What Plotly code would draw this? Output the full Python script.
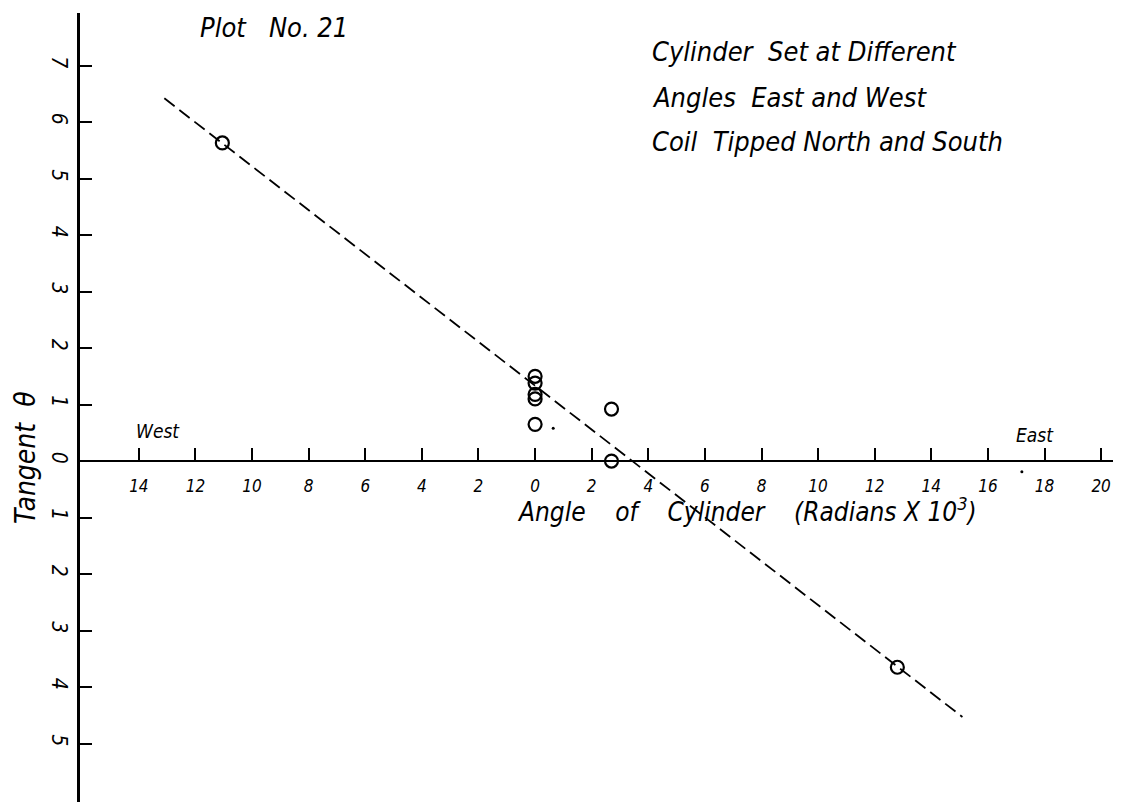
import plotly.graph_objects as go

# measured points (angle of cylinder, radians x 10^3; west negative)
angle = [-11.05, 0.0, 0.0, 0.0, 0.0, 0.0, 2.7, 2.7, 12.8]
tangent = [5.63, 1.5, 1.38, 1.18, 1.1, 0.65, 0.92, 0.0, -3.65]

# hand drawn fitted line
fit_x = [-13.1, 15.1]
fit_y = [6.42, -4.53]

# stray ink specks on the sheet
speck_x = [0.64, 17.2]
speck_y = [0.58, -0.19]

x_ticks = list(range(-14, 21, 2))
x_labels = [str(abs(v)) for v in x_ticks]
y_ticks = list(range(-5, 8))
y_labels = [str(abs(v)) for v in y_ticks]

FONT = "Liberation Sans Narrow, DejaVu Sans Condensed, Liberation Sans, sans-serif"

fig = go.Figure()

fig.add_trace(go.Scatter(
    x=fit_x, y=fit_y, mode='lines',
    line=dict(color='black', width=1.8, dash='13px,6px'),
    showlegend=False, hoverinfo='skip'
))

fig.add_trace(go.Scatter(
    x=angle, y=tangent, mode='markers',
    marker=dict(symbol='circle-open', size=13, color='black', line=dict(width=2.2, color='black')),
    showlegend=False
))

fig.add_trace(go.Scatter(
    x=speck_x, y=speck_y, mode='markers',
    marker=dict(size=3, color='black'),
    showlegend=False, hoverinfo='skip'
))

# page body adds 8px margin, so the figure is a bit smaller than the window
fig.update_layout(
    width=1119, height=797,
    margin=dict(l=72, r=14, t=5, b=3),
    plot_bgcolor='white', paper_bgcolor='white',
    font=dict(family=FONT, color='black'),
    xaxis=dict(
        range=[-16.08, 20.42], domain=[0, 1],
        anchor='free', position=0.4322,
        showgrid=False, zeroline=False,
        showline=True, linecolor='black', linewidth=2.2,
        ticks='inside', ticklen=12, tickwidth=1.5, tickcolor='black',
        tickvals=x_ticks, ticktext=['<i>%s</i>' % t for t in x_labels],
        tickfont=dict(size=17, family=FONT),
        ticklabelstandoff=10,
    ),
    yaxis=dict(
        range=[-6.035, 7.93], domain=[0, 1],
        anchor='x', side='left',
        showgrid=False, zeroline=False,
        showline=True, linecolor='black', linewidth=2.5,
        ticks='inside', ticklen=12, tickwidth=1.8, tickcolor='black',
        tickvals=y_ticks, ticktext=['<i>%s</i>' % t for t in y_labels],
        tickangle=90, tickfont=dict(size=21, family=FONT),
    ),
)


def note(px, py, text, size, angle=0, anchor='center'):
    # place text at a pixel spot of the reference sheet, relative to the plot area
    fig.add_annotation(
        x=(px - 80) / 1033, y=(802 - py) / 789,
        xref='paper', yref='paper',
        text=text, showarrow=False, textangle=angle,
        xanchor=anchor, yanchor='middle',
        font=dict(size=size, family=FONT, color='black'),
    )


note(198, 27, "<i>Plot   No. 21</i>", 27, anchor='left')
note(650, 52, "<i>Cylinder  Set at Different</i>", 27, anchor='left')
note(650, 98, "<i>Angles  East and West</i>", 27, anchor='left')
note(650, 142, "<i>Coil  Tipped North and South</i>", 27, anchor='left')
note(158, 431, "<i>West</i>", 19)
note(1035, 435, "<i>East</i>", 19)
note(747, 510, "<i>Angle    of    Cylinder    (Radians X 10<sup>3</sup>)</i>", 26)
note(25, 458, "<i>Tangent  \u03b8</i>", 28, angle=-90)

fig.write_html("out.html")
